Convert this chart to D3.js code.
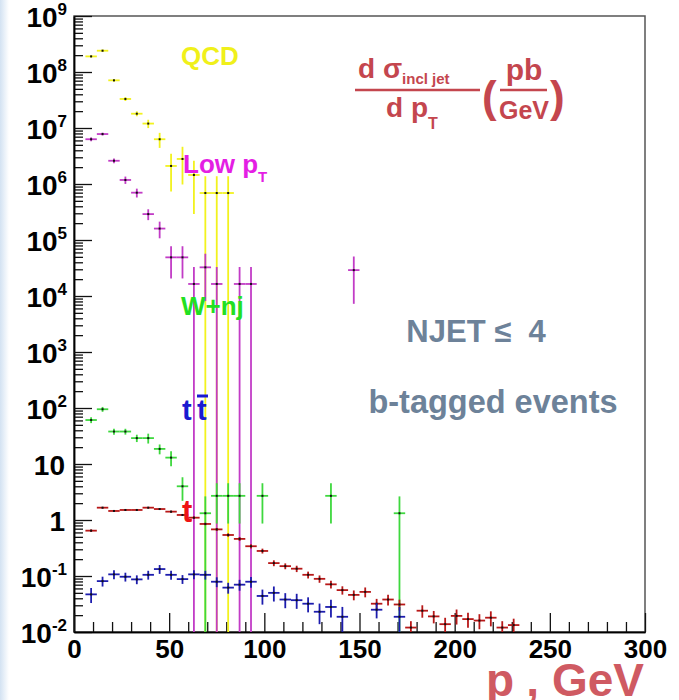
<!DOCTYPE html>
<html>
<head>
<meta charset="utf-8">
<script src="https://cdnjs.cloudflare.com/ajax/libs/d3/7.8.5/d3.min.js"></script>
<style>
body { margin: 0; background: #fff; }
text { font-family: "Liberation Sans", Arial, sans-serif; font-weight: bold; }
</style>
</head>
<body>
<div id="chart"></div>
<script>
// bin width in GeV, points are bin centres
var binWidth = 6;

// QCD
var qcdPt = [9, 15, 21, 27, 33, 39, 45, 51, 57, 63, 69, 75, 81];
var qcdVal = [1.9e8, 2.4e8, 7.1e7, 3.3e7, 1.8e7, 1.2e7, 6.3e6, 2.1e6, 2.8e6, 1.45e6, 6.9e5, 6.9e5, 6.9e5];
var qcdErr = [0.05, 0.05, 0.06, 0.08, 0.1, 0.17, 0.3, 0.65, 0.65, 0.8, 1, 1, 1];

// Low pT
var lowPt = [9, 15, 21, 27, 33, 39, 45, 51, 57, 63, 69, 75, 87, 93, 147];
var lowVal = [6.3e6, 7.8e6, 2.6e6, 1.18e6, 7.0e5, 2.9e5, 1.6e5, 4.9e4, 4.9e4, 1.64e4, 3.25e4, 1.64e4, 1.64e4, 1.64e4, 2.9e4];
var lowErr = [0.08, 0.06, 0.1, 0.15, 0.18, 0.22, 0.33, 0.58, 0.58, 1, 0.75, 1, 1, 1, 0.75];

// W+nj
var wjPt = [9, 15, 21, 27, 33, 39, 45, 51, 57, 69, 75, 81, 87, 99, 135, 171];
var wjVal = [61, 95, 38, 38, 29, 29, 18.6, 13, 4.0, 1.32, 2.7, 2.7, 2.7, 2.7, 2.7, 1.32];
var wjErr = [0.12, 0.1, 0.12, 0.12, 0.15, 0.2, 0.2, 0.3, 0.45, 1, 0.68, 0.68, 0.68, 0.68, 0.68, 1];

// single top
var tPt = [9, 15, 21, 27, 33, 39, 45, 51, 57, 63, 69, 75, 81, 87, 93, 99, 105, 111, 117, 123, 129, 135, 141, 147, 153, 159, 165, 171, 177, 183, 189, 195, 201, 207, 213, 219, 225, 231];
var tVal = [0.645, 1.66, 1.45, 1.51, 1.51, 1.66, 1.57, 1.41, 1.23, 1.1, 0.85, 0.68, 0.54, 0.46, 0.34, 0.28, 0.17, 0.15, 0.135, 0.105, 0.089, 0.071, 0.056, 0.046, 0.052, 0.032, 0.038, 0.031, 0.012, 0.024, 0.019, 0.0138, 0.0194, 0.017, 0.016, 0.018, 0.012, 0.0133];
var tErr = [0.05, 0.03, 0.03, 0.03, 0.03, 0.03, 0.03, 0.04, 0.04, 0.05, 0.05, 0.06, 0.07, 0.08, 0.09, 0.1, 0.12, 0.12, 0.13, 0.14, 0.15, 0.16, 0.17, 0.2, 0.2, 0.22, 0.22, 0.22, 0.3, 0.25, 0.25, 0.3, 0.3, 0.3, 0.3, 0.3, 0.3, 0.3];

// ttbar
var ttPt = [9, 15, 21, 27, 33, 39, 45, 51, 57, 63, 69, 75, 81, 87, 93, 99, 105, 111, 117, 123, 129, 135, 141, 159, 171];
var ttVal = [0.047, 0.081, 0.107, 0.097, 0.087, 0.105, 0.133, 0.105, 0.088, 0.107, 0.105, 0.079, 0.062, 0.070, 0.079, 0.044, 0.050, 0.038, 0.037, 0.032, 0.023, 0.028, 0.0187, 0.025, 0.0187];
var ttErr = [0.3, 0.2, 0.18, 0.18, 0.18, 0.18, 0.18, 0.18, 0.18, 0.18, 0.18, 0.2, 0.22, 0.22, 0.22, 0.3, 0.3, 0.3, 0.3, 0.3, 0.4, 0.35, 0.5, 0.3, 0.5];

var xTicks = [0, 50, 100, 150, 200, 250, 300];
var yDecades = [-2, -1, 0, 1, 2, 3, 4, 5, 6, 7, 8, 9];

var x = d3.scaleLinear().domain([0, 300]).range([74, 645]);
var y = d3.scaleLog().domain([1e-2, 1e9]).range([632, 16]).clamp(true);

var svg = d3.select("#chart").append("svg")
	.attr("width", 679)
	.attr("height", 700);

// faint slide background on the left edge
var grad = svg.append("defs").append("linearGradient").attr("id", "edge");
grad.append("stop").attr("offset", "0%").attr("stop-color", "#d3e2f2");
grad.append("stop").attr("offset", "100%").attr("stop-color", "#ffffff");
svg.append("rect").attr("x", 0).attr("y", 0).attr("width", 9).attr("height", 700).style("fill", "url(#edge)");

svg.append("rect")
	.attr("x", 74).attr("y", 16)
	.attr("width", 645 - 74).attr("height", 632 - 16)
	.style("fill", "#fff")
	.style("stroke", "#555")
	.style("stroke-width", 1.5);

// y axis ticks (inside the frame)
var minorY = [];
yDecades.forEach(function(d) {
	if (d < 9) {
		for (var k = 2; k < 10; k++) minorY.push(k * Math.pow(10, d));
	}
});

svg.append("g")
	.attr("transform", "translate(74,0)")
	.call(d3.axisLeft(y).tickValues(minorY).tickSize(-9).tickSizeOuter(0).tickFormat(""));
svg.append("g")
	.attr("transform", "translate(74,0)")
	.call(d3.axisLeft(y).tickValues(yDecades.map(function(d) { return Math.pow(10, d); })).tickSize(-18).tickSizeOuter(0).tickFormat(""));

// x axis ticks
var minorX = d3.range(10, 300, 10).filter(function(v) { return v % 50 !== 0; });
svg.append("g")
	.attr("transform", "translate(0,632)")
	.call(d3.axisBottom(x).tickValues(minorX).tickSize(-10).tickSizeOuter(0).tickFormat(""));
var xAxis = svg.append("g")
	.attr("transform", "translate(0,632)")
	.call(d3.axisBottom(x).tickValues(xTicks).tickSize(-19).tickSizeOuter(0).tickPadding(8).tickFormat(d3.format("d")));
xAxis.selectAll("text")
	.attr("font-size", 26)
	.attr("font-family", "Liberation Sans, Arial, sans-serif")
	.attr("font-weight", "bold")
	.style("fill", "#000");

svg.selectAll(".domain").style("stroke", "#000").style("stroke-width", 1.5);
svg.selectAll(".tick line").style("stroke", "#111").style("stroke-width", 1.3);

// y labels with superscripts
yDecades.forEach(function(d) {
	var t = svg.append("text")
		.attr("x", 67)
		.attr("y", y(Math.pow(10, d)) + 11)
		.attr("text-anchor", "end")
		.attr("font-size", 28)
		.style("fill", "#000");
	if (d === 0) {
		t.attr("x", 65).text("1");
	} else if (d === 1) {
		t.attr("x", 65).text("10");
	} else {
		t.append("tspan").text("10");
		t.append("tspan").attr("font-size", 17).attr("dy", -12).text(d);
	}
});

function drawSeries(pts, vals, errs, color) {
	var g = svg.append("g");
	pts.forEach(function(p, i) {
		var v = vals[i],
			e = errs[i] * v;
		var lo = Math.max(v - e, 1e-4),
			hi = v + e;
		g.append("line")
			.attr("x1", x(p - binWidth / 2)).attr("x2", x(p + binWidth / 2))
			.attr("y1", y(v)).attr("y2", y(v))
			.style("stroke", color).style("stroke-width", 1.8);
		g.append("line")
			.attr("x1", x(p)).attr("x2", x(p))
			.attr("y1", y(lo)).attr("y2", y(hi))
			.style("stroke", color).style("stroke-width", 1.8);
		g.append("rect")
			.attr("x", x(p) - 1).attr("y", y(v) - 1)
			.attr("width", 2).attr("height", 2)
			.style("fill", "#111");
	});
}

drawSeries(qcdPt, qcdVal, qcdErr, "#f2f21e");
drawSeries(lowPt, lowVal, lowErr, "#c23cc6");
drawSeries(wjPt, wjVal, wjErr, "#3ed83e");
drawSeries(tPt, tVal, tErr, "#b81818");
drawSeries(ttPt, ttVal, ttErr, "#1c1cae");

// process labels
svg.append("text").attr("x", 181).attr("y", 65).attr("font-size", 26).style("fill", "#f0f01a").text("QCD");

var low = svg.append("text").attr("x", 183).attr("y", 173).attr("font-size", 26).style("fill", "#e41ee4");
low.append("tspan").text("Low p");
low.append("tspan").attr("font-size", 15).attr("dy", 9).text("T");

svg.append("text").attr("x", 181).attr("y", 315).attr("font-size", 26).style("fill", "#22e022").text("W+nj");

svg.append("text").attr("x", 182).attr("y", 420).attr("font-size", 29).style("fill", "#1a1ad0").text("t");
svg.append("text").attr("x", 197).attr("y", 420).attr("font-size", 29).style("fill", "#1a1ad0").text("t");
svg.append("line").attr("x1", 197).attr("x2", 208).attr("y1", 396).attr("y2", 396)
	.style("stroke", "#1a1ad0").style("stroke-width", 3);

svg.append("text").attr("x", 182).attr("y", 522).attr("font-size", 31).style("fill", "#ee1414").text("t");

// y title as a fraction
var titleColor = "#c4464e";
var num = svg.append("text").attr("x", 358).attr("y", 78).attr("font-size", 28).style("fill", titleColor);
num.append("tspan").text("d σ");
num.append("tspan").attr("font-size", 15).attr("dy", 6).text("incl jet");
svg.append("line").attr("x1", 355).attr("x2", 480).attr("y1", 90).attr("y2", 90)
	.style("stroke", titleColor).style("stroke-width", 2.5);
var den = svg.append("text").attr("x", 386).attr("y", 117).attr("font-size", 28).style("fill", titleColor);
den.append("tspan").text("d p");
den.append("tspan").attr("font-size", 16).attr("dy", 12).text("T");

svg.append("text").attr("x", 482).attr("y", 112).attr("font-size", 44).attr("font-weight", "normal").style("fill", titleColor).text("(");
svg.append("text").attr("x", 524).attr("y", 80).attr("text-anchor", "middle").attr("font-size", 30).style("fill", titleColor).text("pb");
svg.append("line").attr("x1", 500).attr("x2", 547).attr("y1", 90).attr("y2", 90)
	.style("stroke", titleColor).style("stroke-width", 2.5);
svg.append("text").attr("x", 524).attr("y", 119).attr("text-anchor", "middle").attr("font-size", 25).style("fill", titleColor).text("GeV");
svg.append("text").attr("x", 550).attr("y", 112).attr("font-size", 44).attr("font-weight", "normal").style("fill", titleColor).text(")");

// annotations
svg.append("text").attr("x", 476).attr("y", 342).attr("text-anchor", "middle").attr("font-size", 31)
	.style("fill", "#6d8299").style("white-space", "pre").text("NJET ≤  4");
svg.append("text").attr("x", 493).attr("y", 413).attr("text-anchor", "middle").attr("font-size", 32.5)
	.style("fill", "#6d8299").text("b-tagged events");

// x title, subscript sits below the visible page as in the original slide
var xt = svg.append("text").attr("x", 486).attr("y", 696).attr("font-size", 46).style("fill", "#cf5a62");
xt.append("tspan").text("p");
xt.append("tspan").attr("font-size", 20).attr("dy", 24).text("T");
xt.append("tspan").attr("dy", -24).text(", GeV");
</script>
</body>
</html>
